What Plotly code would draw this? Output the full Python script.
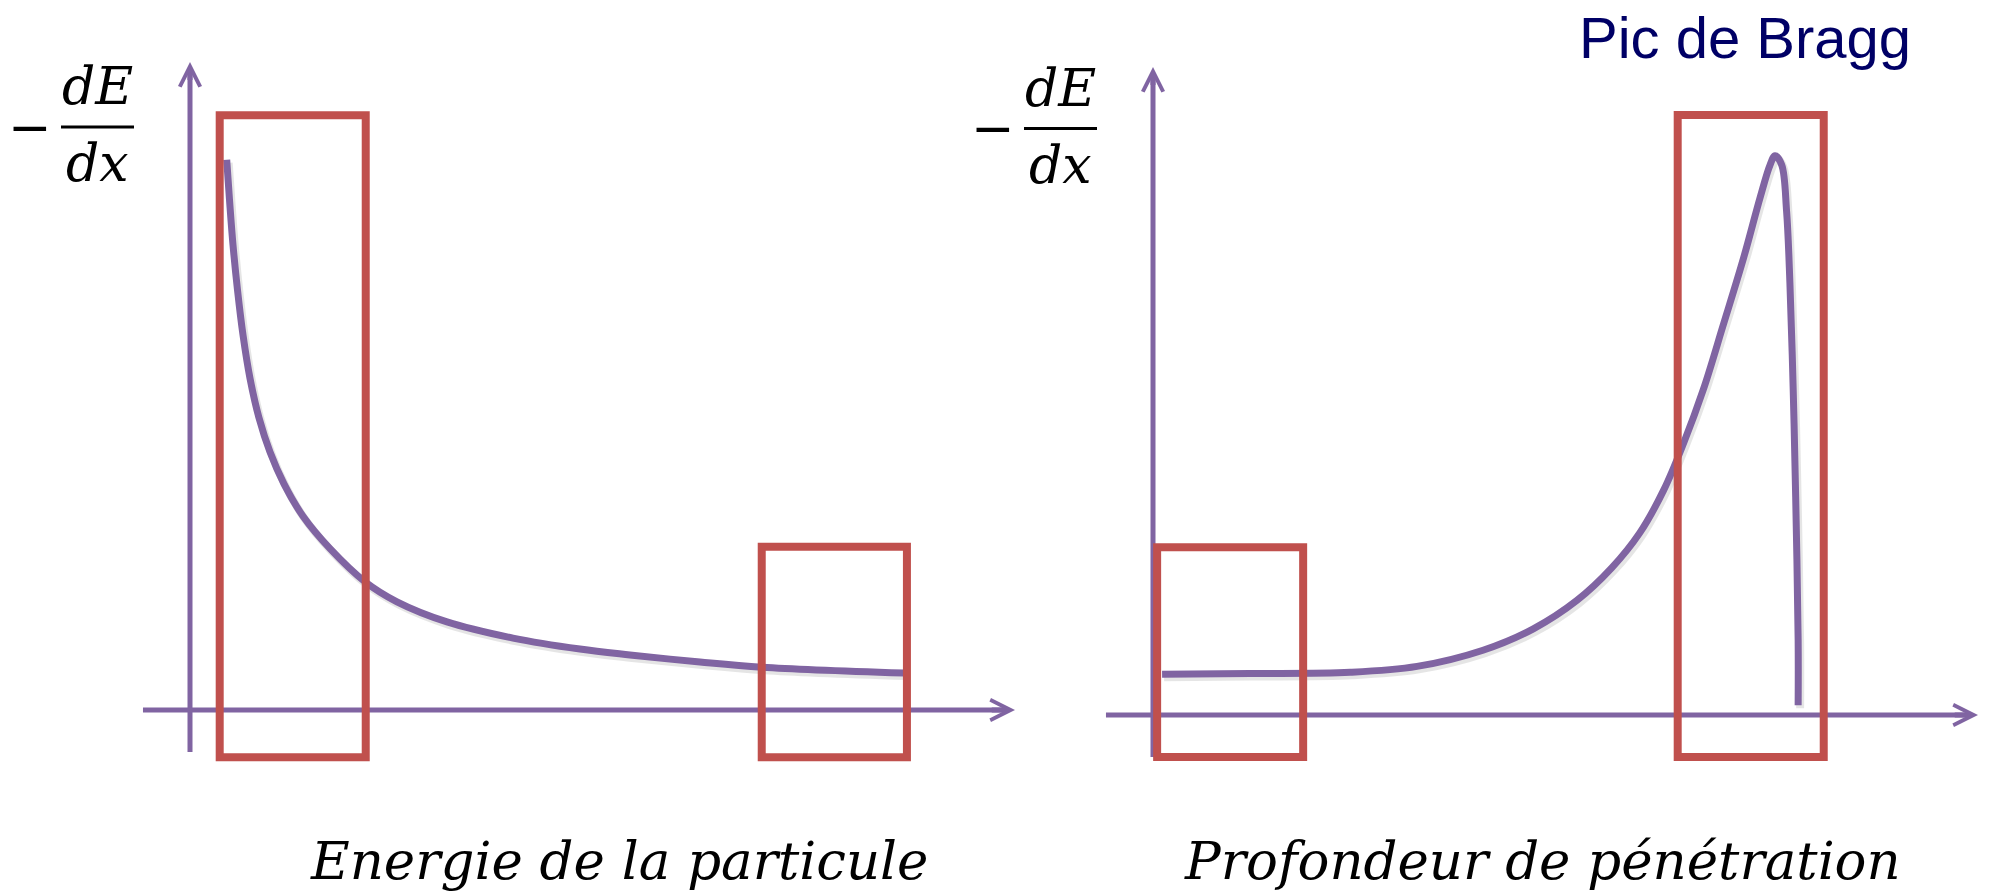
import plotly.graph_objects as go

W, H = 1994, 891

# ---------------- data (arbitrary units) ----------------
# left panel: energy loss vs particle energy
energy = [4.45, 4.79, 5.21, 5.76, 6.42, 7.27, 8.36, 9.70, 11.39, 13.70, 16.97,
          21.21, 25.09, 31.15, 39.15, 47.27, 53.33, 61.82, 69.33, 86.55]
loss_vs_energy = [84.9, 78.7, 71.8, 64.8, 57.9, 51.2, 45.1, 39.8, 34.9, 29.9,
                  24.9, 19.8, 16.7, 13.6, 11.1, 9.4, 8.5, 7.4, 6.6, 5.7]

# right panel: energy loss vs penetration depth (Bragg curve)
depth = [1.1, 11.8, 23.9, 32.0, 40.0, 46.1, 51.4, 55.6, 59.0, 61.9, 64.3, 66.7,
         69.1, 71.6, 73.6, 74.8, 75.4, 76.2, 76.8, 77.2, 77.6, 77.9, 78.2, 78.2]
loss_vs_depth = [6.3, 6.4, 6.6, 7.5, 10.0, 13.3, 17.7, 22.7, 28.1, 34.7, 41.9,
                 50.2, 60.1, 70.6, 79.9, 84.9, 86.3, 84.9, 77.7, 66.7, 50.2,
                 33.6, 11.6, 1.5]

# highlighted regions (x0, x1, y0, y1) in data units
energy_boxes = [(3.6, 21.3, -7.3, 91.8), (69.3, 86.9, -7.3, 25.2)]
depth_boxes = [(0.5, 18.2, -6.5, 25.9), (63.6, 81.3, -6.5, 92.6)]

# axis extents (data units)
axis_tip = 100
x_axis_tail = -5.7
y_axis_tail = -6.5

# texts
x_title_left = "Energie de la particule"
x_title_right = "Profondeur de pénétration"
peak_label = "Pic de Bragg"

# ---------------- styling / layout constants ----------------
PURPLE = "#8064A2"
RED = "#C0504D"
NAVY = "#000066"
SERIF = "DejaVu Serif, Liberation Serif, serif"

SX, SY = 8.25, 6.48          # pixels per data unit
LEFT_ORIGIN = (190, 710)     # pixel position of the axes origin, left panel
RIGHT_ORIGIN = (1153, 715)   # right panel
SPLIT = 1040                 # pixel column splitting the two panels

AXIS_W = 5
LINE_STOP = 6                # px: axis line stops this far before the arrow tip


def px(x):
    return x / W


def py(y):
    return 1 - y / H


fig = go.Figure()

panels = [
    ("x", "y", energy, loss_vs_energy, energy_boxes),
    ("x2", "y2", depth, loss_vs_depth, depth_boxes),
]

shapes = []
annotations = []

for xa, ya, xs, ys, boxes in panels:
    # axis lines
    fig.add_trace(go.Scatter(x=[x_axis_tail, axis_tip - LINE_STOP / SX], y=[0, 0],
                             mode="lines", line=dict(color=PURPLE, width=AXIS_W),
                             xaxis=xa, yaxis=ya, hoverinfo="skip"))
    fig.add_trace(go.Scatter(x=[0, 0], y=[y_axis_tail, axis_tip - LINE_STOP / SY],
                             mode="lines", line=dict(color=PURPLE, width=AXIS_W),
                             xaxis=xa, yaxis=ya, hoverinfo="skip"))
    # curve shadow
    fig.add_trace(go.Scatter(x=[v + 2 / SX for v in xs], y=[v - 3 / SY for v in ys],
                             mode="lines", line=dict(color="rgba(0,0,0,0.10)", width=8,
                                                     shape="spline", smoothing=1.0),
                             xaxis=xa, yaxis=ya, hoverinfo="skip"))
    # curve
    fig.add_trace(go.Scatter(x=xs, y=ys, mode="lines",
                             line=dict(color=PURPLE, width=7, shape="spline", smoothing=1.0),
                             xaxis=xa, yaxis=ya, hoverinfo="skip"))
    # boxes
    for x0, x1, y0, y1 in boxes:
        shapes.append(dict(type="rect", xref=xa, yref=ya, x0=x0, x1=x1, y0=y0, y1=y1,
                           line=dict(color=RED, width=8), fillcolor="rgba(0,0,0,0)",
                           layer="above"))
    # arrow heads
    annotations.append(dict(x=axis_tip, y=0, ax=axis_tip - 3, ay=0,
                            xref=xa, yref=ya, axref=xa, ayref=ya, text="",
                            showarrow=True, arrowhead=5, arrowwidth=AXIS_W, arrowsize=0.8,
                            arrowcolor=PURPLE, standoff=0, startstandoff=0))
    annotations.append(dict(x=0, y=axis_tip, ax=0, ay=axis_tip - 3,
                            xref=xa, yref=ya, axref=xa, ayref=ya, text="",
                            showarrow=True, arrowhead=5, arrowwidth=AXIS_W, arrowsize=0.8,
                            arrowcolor=PURPLE, standoff=0, startstandoff=0))

# -dE/dx labels
for minus_x, frac_x0, frac_x1, bar_y in [(30, 61, 134, 127), (993, 1024, 1097, 128.5)]:
    cx = (frac_x0 + frac_x1) / 2
    annotations.append(dict(x=px(minus_x), y=py(bar_y), xref="paper", yref="paper",
                            text="−", showarrow=False, xanchor="center", yanchor="middle",
                            font=dict(family=SERIF, size=52, color="black")))
    annotations.append(dict(x=px(cx), y=py(bar_y - 41), xref="paper", yref="paper",
                            text="<i>dE</i>", showarrow=False, xanchor="center",
                            yanchor="middle", font=dict(family=SERIF, size=52, color="black")))
    annotations.append(dict(x=px(cx), y=py(bar_y + 36), xref="paper", yref="paper",
                            text="<i>dx</i>", showarrow=False, xanchor="center",
                            yanchor="middle", font=dict(family=SERIF, size=52, color="black")))
    shapes.append(dict(type="line", xref="paper", yref="paper",
                       x0=px(frac_x0), x1=px(frac_x1), y0=py(bar_y), y1=py(bar_y),
                       line=dict(color="black", width=3)))

# axis titles
annotations.append(dict(x=px(619), y=py(860), xref="paper", yref="paper",
                        text="<i>" + x_title_left + "</i>", showarrow=False,
                        xanchor="center", yanchor="middle",
                        font=dict(family=SERIF, size=53, color="black")))
annotations.append(dict(x=px(1542), y=py(860), xref="paper", yref="paper",
                        text="<i>" + x_title_right + "</i>", showarrow=False,
                        xanchor="center", yanchor="middle",
                        font=dict(family=SERIF, size=53, color="black")))
# Bragg peak label
annotations.append(dict(x=px(1745), y=py(37), xref="paper", yref="paper",
                        text=peak_label, showarrow=False, xanchor="center", yanchor="middle",
                        font=dict(family="Liberation Sans, Arial, sans-serif", size=58,
                                  color=NAVY)))

lx, ly = LEFT_ORIGIN
rx, ry = RIGHT_ORIGIN
fig.update_layout(
    width=W, height=H,
    margin=dict(l=0, r=0, t=0, b=0),
    paper_bgcolor="white", plot_bgcolor="rgba(0,0,0,0)",
    showlegend=False,
    hovermode=False,
    xaxis=dict(domain=[0, SPLIT / W], range=[(0 - lx) / SX, (SPLIT - lx) / SX],
               visible=False, fixedrange=True),
    yaxis=dict(domain=[0, 1], range=[(ly - H) / SY, ly / SY], visible=False,
               fixedrange=True),
    xaxis2=dict(domain=[SPLIT / W, 1], range=[(SPLIT - rx) / SX, (W - rx) / SX],
                anchor="y2", visible=False, fixedrange=True),
    yaxis2=dict(domain=[0, 1], range=[(ry - H) / SY, ry / SY], anchor="x2",
                visible=False, fixedrange=True),
    shapes=shapes,
    annotations=annotations,
)

fig.write_html("out.html",
               config={"displayModeBar": False},
               post_script="document.body.style.margin='0px';"
                           "document.body.style.overflow='hidden';")
